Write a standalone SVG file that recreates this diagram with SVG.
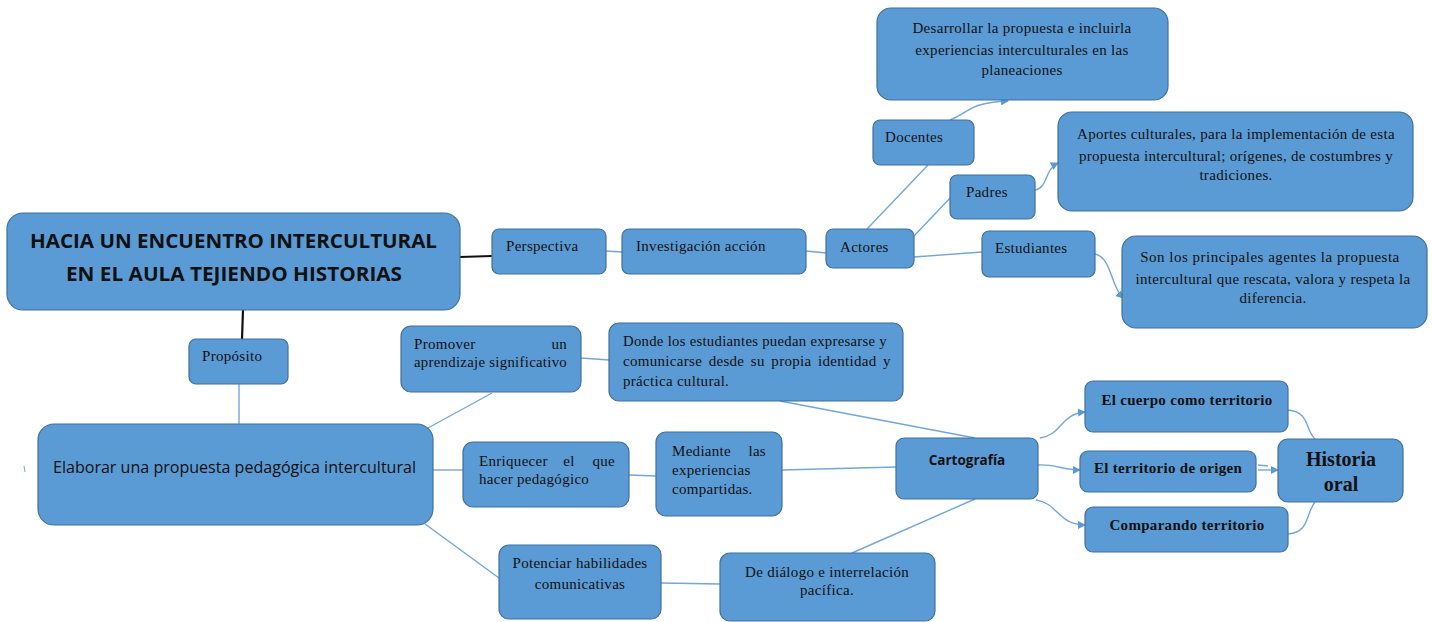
<svg xmlns="http://www.w3.org/2000/svg" width="1432" height="622" viewBox="0 0 1432 622">
<defs>
<marker id="arr" markerWidth="8" markerHeight="8" refX="7" refY="4" orient="auto" markerUnits="userSpaceOnUse">
<path d="M0,0 L8,4 L0,8 z" fill="#5B9BD5"/>
</marker>
<style>
.n{fill:#5B9BD5;stroke:#41719C;stroke-width:1.2}
.s{font-family:"Liberation Serif","Times New Roman",serif;font-size:15px;letter-spacing:0.3px;fill:#111}
.sb{font-family:"Liberation Serif","Times New Roman",serif;font-size:15px;letter-spacing:0.3px;font-weight:bold;fill:#111}
.big{font-size:20px;letter-spacing:0}
.c{text-anchor:middle}
.sans{font-family:"Open Sans","Liberation Sans",Arial,sans-serif;fill:#111}
.l{fill:none;stroke:#6FA8DC;stroke-width:1.4}
.k{fill:none;stroke:#111;stroke-width:2.2}
</style>
</defs>
<rect width="1432" height="622" fill="#fff"/>
<g id="connectors">
<line class="k" x1="460" y1="257" x2="492" y2="256"/>
<line class="k" x1="243" y1="310" x2="242" y2="339"/>
<line class="l" x1="239" y1="384" x2="239" y2="424"/>
<line class="l" x1="606" y1="251" x2="622" y2="252"/>
<line class="l" x1="806" y1="251" x2="826" y2="253"/>
<line class="l" x1="867" y1="229" x2="928" y2="165"/>
<line class="l" x1="914" y1="236" x2="951" y2="197"/>
<line class="l" x1="914" y1="257" x2="982" y2="252"/>
<path class="l" d="M950 120 C 970 112, 968 103, 1008 101" marker-end="url(#arr)"/>
<path class="l" d="M1035 190 C 1048 188, 1044 170, 1058 163" marker-end="url(#arr)"/>
<path class="l" d="M1095 254 C 1112 258, 1110 285, 1123 298" marker-end="url(#arr)"/>
<line class="l" x1="428" y1="428" x2="492" y2="393"/>
<line class="l" x1="581" y1="358" x2="609" y2="360"/>
<line class="l" x1="780" y1="401" x2="975" y2="438"/>
<line class="l" x1="433" y1="470" x2="463" y2="470"/>
<line class="l" x1="629" y1="475" x2="656" y2="476"/>
<line class="l" x1="782" y1="470" x2="896" y2="467"/>
<line class="l" x1="425" y1="524" x2="499" y2="578"/>
<line class="l" x1="661" y1="583" x2="720" y2="584"/>
<line class="l" x1="852" y1="553" x2="975" y2="499"/>
<path class="l" d="M1040 438 C 1062 435, 1060 414, 1085 412" marker-end="url(#arr)"/>
<path class="l" d="M1038 465 C 1055 464, 1062 470, 1080 470" marker-end="url(#arr)"/>
<path class="l" d="M1036 500 C 1058 503, 1058 525, 1085 525" marker-end="url(#arr)"/>
<line class="l" x1="1258" y1="465" x2="1268" y2="466"/>
<line class="l" x1="1258" y1="470" x2="1278" y2="470" marker-end="url(#arr)"/>
<path class="l" d="M1288 410 C 1310 412, 1305 430, 1315 439"/>
<path class="l" d="M1288 534 C 1310 532, 1305 515, 1315 502"/>
<path d="M24 466 L25 472" stroke="#6FA8DC" stroke-width="1"/>
</g>
<g id="titulo">
<rect class="n" x="7" y="213" width="453" height="97" rx="16"/>
<text class="sans" font-size="20" font-weight="bold" x="30" y="248" textLength="407" lengthAdjust="spacingAndGlyphs">HACIA UN ENCUENTRO INTERCULTURAL</text>
<text class="sans" font-size="20" font-weight="bold" x="66" y="281" textLength="336" lengthAdjust="spacingAndGlyphs">EN EL AULA TEJIENDO HISTORIAS</text>
</g>
<g id="proposito">
<rect class="n" x="189" y="339" width="99" height="45" rx="7"/>
<text class="s" x="202" y="361">Propósito</text>
</g>
<g id="elaborar">
<rect class="n" x="38" y="424" width="395" height="101" rx="16"/>
<text class="sans" font-size="16" x="53" y="473" textLength="363" lengthAdjust="spacingAndGlyphs">Elaborar una propuesta pedagógica intercultural</text>
</g>
<g id="perspectiva">
<rect class="n" x="492" y="229" width="114" height="45" rx="7"/>
<text class="s" x="506" y="251">Perspectiva</text>
</g>
<g id="investigacion">
<rect class="n" x="622" y="229" width="184" height="45" rx="7"/>
<text class="s" x="636" y="251">Investigación acción</text>
</g>
<g id="actores">
<rect class="n" x="826" y="229" width="88" height="39" rx="7"/>
<text class="s" x="840" y="252">Actores</text>
</g>
<g id="docentes">
<rect class="n" x="873" y="120" width="101" height="45" rx="7"/>
<text class="s" x="885" y="142">Docentes</text>
</g>
<g id="desarrollar">
<rect class="n" x="877" y="8" width="291" height="92" rx="14"/>
<text class="s c" x="1022" y="33">Desarrollar la propuesta e incluirla</text>
<text class="s c" x="1022" y="55">experiencias interculturales en las</text>
<text class="s c" x="1022" y="75">planeaciones</text>
</g>
<g id="padres">
<rect class="n" x="950" y="175" width="85" height="44" rx="7"/>
<text class="s" x="966" y="197">Padres</text>
</g>
<g id="aportes">
<rect class="n" x="1058" y="112" width="355" height="99" rx="14"/>
<text class="s c" x="1236" y="139">Aportes culturales,  para la implementación de esta</text>
<text class="s c" x="1236" y="161">propuesta intercultural; orígenes, de costumbres y</text>
<text class="s c" x="1236" y="180">tradiciones.</text>
</g>
<g id="estudiantes">
<rect class="n" x="982" y="231" width="113" height="46" rx="7"/>
<text class="s" x="995" y="253">Estudiantes</text>
</g>
<g id="son">
<rect class="n" x="1122" y="236" width="305" height="92" rx="14"/>
<text class="s c" x="1270" y="262" style="letter-spacing:0.5px">Son los principales  agentes la propuesta</text>
<text class="s c" x="1273" y="284">intercultural que rescata, valora y respeta la</text>
<text class="s c" x="1273" y="303">diferencia.</text>
</g>
<g id="promover">
<rect class="n" x="401" y="326" width="180" height="66" rx="10"/>
<text class="s" x="414" y="349">Promover</text>
<text class="s" x="567" y="349" text-anchor="end">un</text>
<text class="s" x="414" y="367" textLength="153" lengthAdjust="spacingAndGlyphs">aprendizaje significativo</text>
</g>
<g id="donde">
<rect class="n" x="609" y="323" width="294" height="78" rx="10"/>
<text class="s" x="623" y="346" textLength="264" lengthAdjust="spacingAndGlyphs">Donde los estudiantes puedan expresarse y</text>
<text class="s" x="623" y="366" word-spacing="2.5">comunicarse desde su propia identidad y</text>
<text class="s" x="623" y="386">práctica cultural.</text>
</g>
<g id="enriquecer">
<rect class="n" x="463" y="442" width="166" height="65" rx="10"/>
<text class="s" x="479" y="466">Enriquecer</text>
<text class="s" x="569" y="466" text-anchor="middle">el</text>
<text class="s" x="615" y="466" text-anchor="end">que</text>
<text class="s" x="479" y="484">hacer pedagógico</text>
</g>
<g id="mediante">
<rect class="n" x="656" y="432" width="126" height="84" rx="10"/>
<text class="s" x="672" y="456">Mediante</text>
<text class="s" x="766" y="456" text-anchor="end">las</text>
<text class="s" x="672" y="475">experiencias</text>
<text class="s" x="672" y="494">compartidas.</text>
</g>
<g id="cartografia">
<rect class="n" x="896" y="438" width="142" height="61" rx="8"/>
<text class="sans c" font-size="13.5" font-weight="bold" x="967" y="465">Cartografía</text>
</g>
<g id="cuerpo">
<rect class="n" x="1085" y="381" width="203" height="51" rx="8"/>
<text class="sb c" x="1187" y="405">El cuerpo como territorio</text>
</g>
<g id="origen">
<rect class="n" x="1080" y="451" width="176" height="41" rx="8"/>
<text class="sb c" x="1168" y="473">El territorio de origen</text>
</g>
<g id="comparando">
<rect class="n" x="1085" y="507" width="203" height="45" rx="8"/>
<text class="sb c" x="1187" y="530">Comparando territorio</text>
</g>
<g id="historia">
<rect class="n" x="1278" y="439" width="125" height="63" rx="10"/>
<text class="sb big c" x="1341" y="466">Historia</text>
<text class="sb big c" x="1341" y="491">oral</text>
</g>
<g id="potenciar">
<rect class="n" x="499" y="545" width="162" height="74" rx="10"/>
<text class="s c" x="580" y="568">Potenciar habilidades</text>
<text class="s c" x="580" y="589">comunicativas</text>
</g>
<g id="dialogo">
<rect class="n" x="720" y="553" width="215" height="68" rx="10"/>
<text class="s c" x="827" y="577">De diálogo e interrelación</text>
<text class="s c" x="827" y="595">pacífica.</text>
</g>
</svg>
